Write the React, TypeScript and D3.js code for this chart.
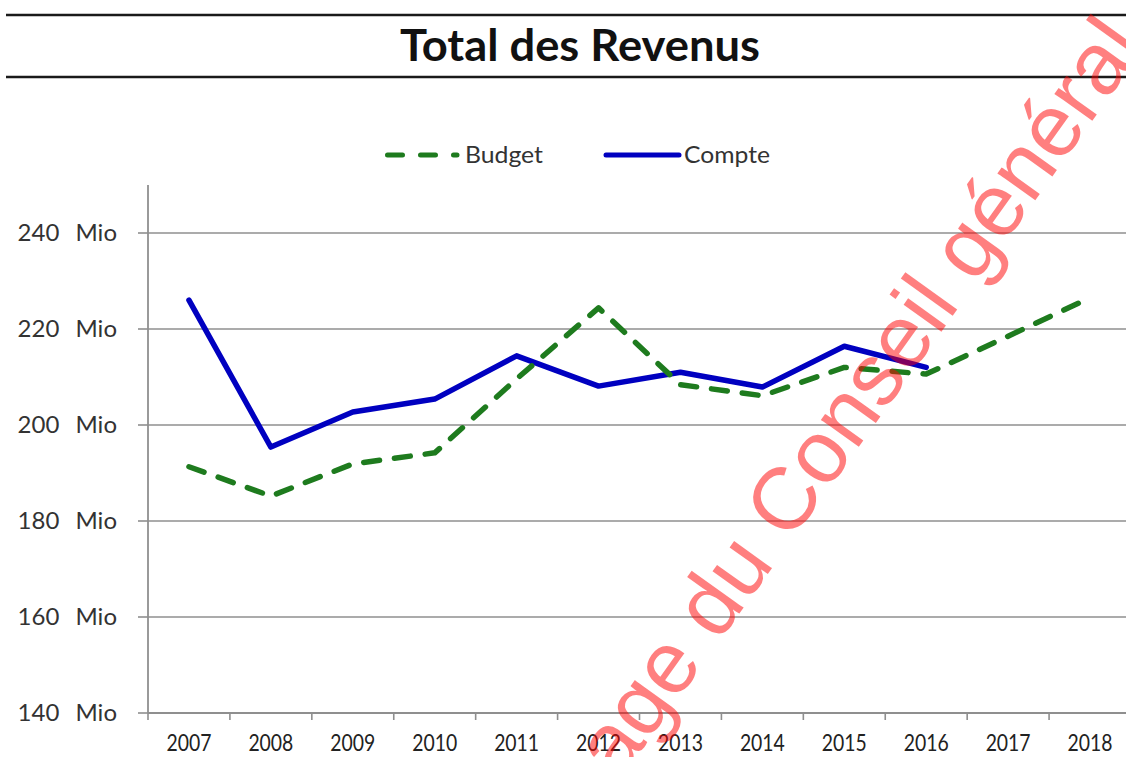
import React from "react";
import * as d3 from "d3";

const years = ["2007","2008","2009","2010","2011","2012","2013","2014","2015","2016","2017","2018"];
const budget = [191.3, 185.2, 191.9, 194.2, 209.6, 224.4, 208.4, 206.1, 212.0, 210.6, 218.5, 226.5];
const compte = [226.0, 195.4, 202.7, 205.4, 214.4, 208.1, 211.0, 207.9, 216.4, 212.0];
const yTicks = [140, 160, 180, 200, 220, 240];
const title = "Total des Revenus";
const legendLabels = ["Budget", "Compte"];
const watermark = "Message du Conseil général";

const W = 1126, H = 757;
const plot = { left: 148, right: 1131, top: 185, bottom: 713 };

export default function App() {
  const x = d3.scaleBand<string>().domain(years).range([plot.left, plot.right]).padding(0);
  const y = d3.scaleLinear().domain([140, 250]).range([plot.bottom, plot.top]);
  const cx = (yr: string) => (x(yr) as number) + x.bandwidth() / 2;

  const lineGen = d3.line<number>()
    .x((_, i) => cx(years[i]))
    .y((v) => y(v));

  const font = "Lato, 'Open Sans', sans-serif";
  const boundaries = years.map((yr) => x(yr) as number).concat([plot.right]);
  const green = "#1e7b1e";
  const blue = "#0000c0";

  return (
    <svg width={W} height={H} style={{ position: "absolute", left: 0, top: 0, background: "#fff" }}>
      {/* title block */}
      <line x1={6} x2={W} y1={15} y2={15} stroke="#1a1a1a" strokeWidth={2.5} />
      <line x1={6} x2={W} y1={77} y2={77} stroke="#1a1a1a" strokeWidth={2.5} />
      <text x={580} y={61} textAnchor="middle" fontFamily={font} fontWeight={700} fontSize={44}
        textLength={360} lengthAdjust="spacingAndGlyphs" fill="#111">{title}</text>

      {/* legend */}
      <line x1={387.5} x2={457} y1={155} y2={155} stroke={green} strokeWidth={5}
        strokeDasharray="15 18" strokeLinecap="round" />
      <text x={465} y={163} fontFamily={font} fontSize={23} fill="#333" textLength={78}
        lengthAdjust="spacingAndGlyphs">{legendLabels[0]}</text>
      <line x1={606} x2={679} y1={155} y2={155} stroke={blue} strokeWidth={5} strokeLinecap="round" />
      <text x={684} y={163} fontFamily={font} fontSize={23} fill="#333" textLength={86}
        lengthAdjust="spacingAndGlyphs">{legendLabels[1]}</text>

      {/* gridlines and y axis */}
      {yTicks.map((t) => (
        <g key={t}>
          {t > 140 && (
            <line x1={plot.left} x2={W} y1={y(t)} y2={y(t)} stroke="#8f8f8f" strokeWidth={1.6} />
          )}
          <line x1={138} x2={plot.left} y1={y(t)} y2={y(t)} stroke="#8f8f8f" strokeWidth={1.6} />
          <text x={117} y={y(t) + 8} textAnchor="end" fontFamily={font} fontSize={24} fill="#333"
            wordSpacing={10}>
            {`${t} Mio`}
          </text>
        </g>
      ))}
      <line x1={plot.left} x2={plot.left} y1={plot.top} y2={plot.bottom} stroke="#8f8f8f" strokeWidth={1.8} />
      <line x1={plot.left} x2={W} y1={plot.bottom} y2={plot.bottom} stroke="#8f8f8f" strokeWidth={1.8} />
      {boundaries.map((bx, i) => (
        <line key={i} x1={bx} x2={bx} y1={plot.bottom} y2={plot.bottom + 7} stroke="#8f8f8f" strokeWidth={1.6} />
      ))}
      {years.map((yr) => (
        <text key={yr} x={cx(yr)} y={751} textAnchor="middle" fontFamily={font} fontSize={23}
          fill="#222" textLength={45} lengthAdjust="spacingAndGlyphs">{yr}</text>
      ))}

      {/* series */}
      <path d={lineGen(compte) || ""} fill="none" stroke={blue} strokeWidth={5.5}
        strokeLinejoin="round" strokeLinecap="round" />
      <path d={lineGen(budget) || ""} fill="none" stroke={green} strokeWidth={5.5}
        strokeDasharray="16 15" strokeLinecap="round" strokeLinejoin="round" />

      {/* watermark */}
      <text x={496.5} y={953} transform="rotate(-54.4, 496.5, 953)" fontFamily="'Liberation Sans', Arial, sans-serif"
        fontSize={88} fill="#ff0000" fillOpacity={0.5}>{watermark}</text>
    </svg>
  );
}
